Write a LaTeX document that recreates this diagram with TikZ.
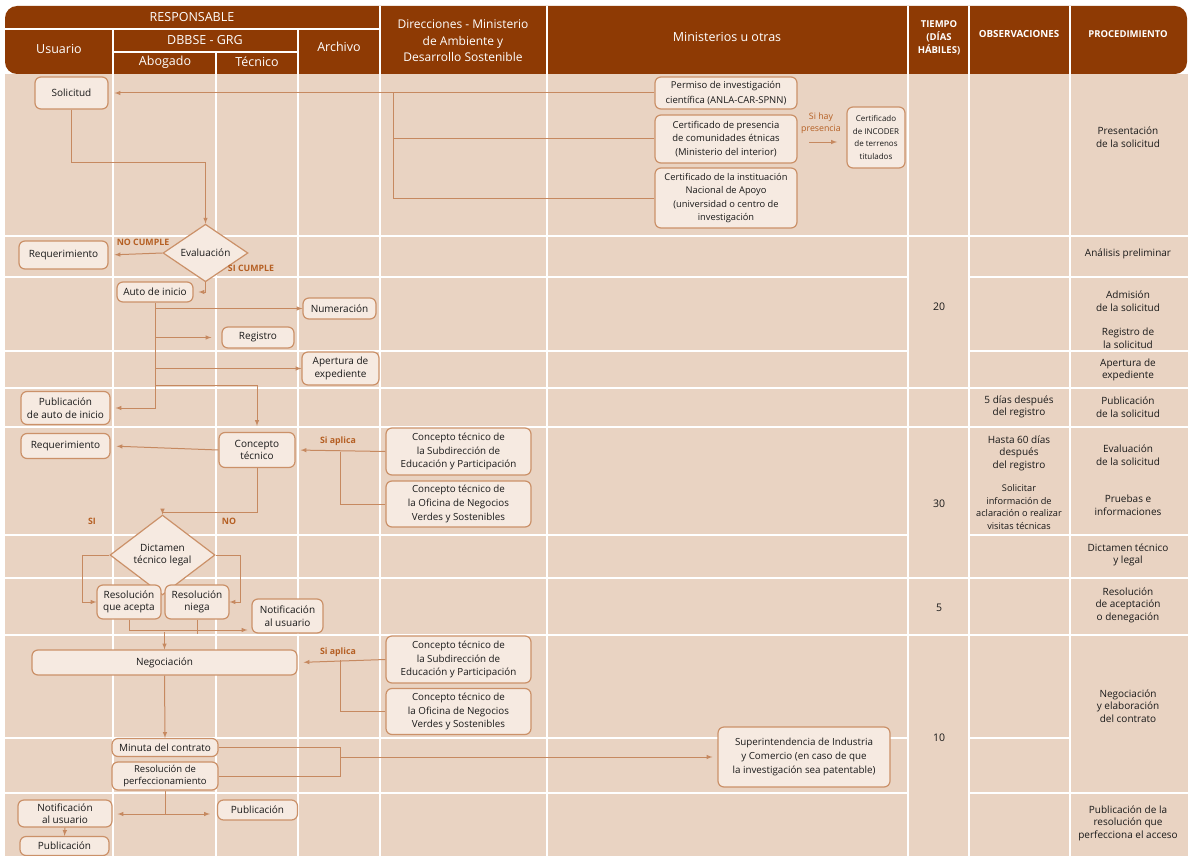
\documentclass[tikz,border=0pt]{standalone}
\usepackage{fontspec}
\setmainfont{Open Sans}
\usetikzlibrary{shapes.geometric}
\definecolor{cafe}{RGB}{142,58,4}
\definecolor{fondo}{RGB}{233,211,194}
\definecolor{caja}{RGB}{246,234,225}
\definecolor{borde}{RGB}{203,145,105}
\definecolor{linea}{RGB}{198,137,96}
\definecolor{etiqueta}{RGB}{181,95,35}
\tikzset{
  >=latex,
  paso/.style={draw=borde, fill=caja, line width=1.2pt, rounded corners=6pt, align=center,
    inner sep=1pt, text=black!90, font=\fontsize{10}{12.5}\selectfont},
  pasochico/.style={paso, font=\fontsize{9.8}{13.8}\selectfont},
  decision/.style={diamond, draw=borde, fill=caja, line width=1.2pt, align=center,
    inner sep=0pt, text=black!90, font=\fontsize{10}{12.5}\selectfont},
  flujo/.style={draw=linea, line width=1pt},
  rotulo/.style={text=etiqueta, align=center, font=\fontsize{8.8}{11.5}\selectfont\bfseries},
  encabezado/.style={text=white, align=center, font=\fontsize{12.5}{15}\selectfont},
  nota/.style={align=center, text=black!90, font=\fontsize{10}{12.5}\selectfont},
  rejilla/.style={white, line width=1.8pt}
}

\begin{document}
\begin{tikzpicture}[x=1pt,y=-1pt]
\useasboundingbox (0,0) rectangle (1188,856);
\fill[white] (0,0) rectangle (1188,856);
\fill[fondo] (5,74) rectangle (1188,856);
\fill[cafe,rounded corners=12pt] (5,6) rectangle (1187,74);

\draw[rejilla] (5,29)--(380,29);
\draw[rejilla] (113,52)--(298,52);
\foreach \x in {113,298} \draw[rejilla] (\x,29)--(\x,74);
\draw[rejilla] (216,52)--(216,74);
\foreach \x in {380,547,908,969,1070} \draw[rejilla] (\x,6)--(\x,74);
\foreach \x in {113,216,298,380,547,908,969,1070} \draw[rejilla] (\x,74)--(\x,856);
\foreach \y in {236,388,427,578,635} \draw[rejilla] (5,\y)--(1188,\y);
\foreach \y in {277,351,535,793} {
  \draw[rejilla] (5,\y)--(908,\y);
  \draw[rejilla] (969,\y)--(1188,\y);
}
\draw[rejilla] (5,738)--(908,738);
\draw[rejilla] (969,738)--(1070,738);

\node[encabezado] (hresp) at (192,17) {RESPONSABLE};
\node[encabezado] (husuario) at (59,49) {Usuario};
\node[encabezado] (hdbbse) at (205,40) {DBBSE - GRG};
\node[encabezado] (habogado) at (165,62) {Abogado};
\node[encabezado] (htecnico) at (257,62) {Técnico};
\node[encabezado] (harchivo) at (339,47) {Archivo};
\node[encabezado, font=\fontsize{12}{16.5}\selectfont] (hdirecc) at (463,41) {Direcciones - Ministerio\\de Ambiente y\\Desarrollo Sostenible};
\node[encabezado] (hminist) at (727,37) {Ministerios u otras};
\node[encabezado, font=\fontsize{9.5}{13}\selectfont\bfseries] (htiempo) at (939,38) {TIEMPO\\(DÍAS\\HÁBILES)};
\node[encabezado, font=\fontsize{9.8}{13}\selectfont\bfseries] (hobserv) at (1019,34) {OBSERVACIONES};
\node[encabezado, font=\fontsize{9.5}{13}\selectfont\bfseries] (hproced) at (1128,34) {PROCEDIMIENTO};

\node[nota, font=\fontsize{10.5}{12.5}\selectfont] (t20) at (939,307) {20};
\node[nota, font=\fontsize{10.5}{12.5}\selectfont] (t30) at (939,504) {30};
\node[nota, font=\fontsize{10.5}{12.5}\selectfont] (t5) at (939,608) {5};
\node[nota, font=\fontsize{10.5}{12.5}\selectfont] (t10) at (939,738) {10};

\node[nota] (o1) at (1019,407) {5 días después\\del registro};
\node[nota] (o2) at (1019,453) {Hasta 60 días\\después\\del registro};
\node[nota, font=\fontsize{9.2}{12.8}\selectfont] (o3) at (1019,507) {Solicitar\\información de\\aclaración o realizar\\visitas técnicas};

\node[nota] (p1) at (1128,137) {Presentación\\de la solicitud};
\node[nota] (p2) at (1128,254) {Análisis preliminar};
\node[nota] (p3) at (1128,301) {Admisión\\de la solicitud};
\node[nota] (p4) at (1128,338) {Registro de\\la solicitud};
\node[nota] (p5) at (1128,370) {Apertura de\\expediente};
\node[nota] (p6) at (1128,407) {Publicación\\de la solicitud};
\node[nota] (p7) at (1128,455) {Evaluación\\de la solicitud};
\node[nota] (p8) at (1128,505) {Pruebas e\\informaciones};
\node[nota] (p9) at (1128,555) {Dictamen técnico\\y legal};
\node[nota] (p10) at (1128,605) {Resolución\\de aceptación\\o denegación};
\node[nota] (p11) at (1128,706) {Negociación\\y elaboración\\del contrato};
\node[nota] (p12) at (1128,823) {Publicación de la\\resolución que\\perfecciona el acceso};

\node[paso, minimum width=73pt, minimum height=32pt] (solicitud) at (71.5,93) {Solicitud};
\node[pasochico, font=\fontsize{9.5}{15}\selectfont, minimum width=142pt, minimum height=32pt] (permiso) at (726,93) {Permiso de investigación\\científica (ANLA-CAR-SPNN)};
\node[pasochico, font=\fontsize{9.5}{13.5}\selectfont, minimum width=142pt, minimum height=48pt] (presencia) at (726,139) {Certificado de presencia\\de comunidades étnicas\\(Ministerio del interior)};
\node[pasochico, font=\fontsize{9.3}{13.5}\selectfont, minimum width=142pt, minimum height=60pt] (institucion) at (726,198) {Certificado de la instituación\\Nacional de Apoyo\\(universidad o centro de\\investigación};
\node[paso, font=\fontsize{8}{12.5}\selectfont, minimum width=58pt, minimum height=61pt] (incoder) at (876,137.5) {Certificado\\de INCODER\\de terrenos\\titulados};
\node[rotulo, font=\fontsize{8.8}{12.5}\selectfont] (hay) at (821,123) {Si hay\\presencia};
\coordinate (hayini) at (809,142);
\coordinate (hayfin) at (837,142);
\coordinate (union) at (393,93);

\node[decision, minimum width=85pt, minimum height=39pt] (evaluacion) at (205.5,253) {Evaluación};
\node[paso, minimum width=89pt, minimum height=28pt] (req1) at (63.5,255) {Requerimiento};
\node[rotulo] (nocumple) at (143,242) {NO CUMPLE};
\node[rotulo] (sicumple) at (251,268) {SI CUMPLE};

\node[paso, minimum width=76pt, minimum height=20pt] (auto) at (155,292) {Auto de inicio};
\node[paso, minimum width=73pt, minimum height=21pt] (numeracion) at (339.5,308.5) {Numeración};
\node[paso, minimum width=72pt, minimum height=21pt] (registro) at (258,337.5) {Registro};
\node[paso, minimum width=77pt, minimum height=33pt] (apertura) at (340.5,368.5) {Apertura de\\expediente};
\node[paso, minimum width=89pt, minimum height=33pt] (publicauto) at (65.5,408) {Publicación\\de auto de inicio};

\node[paso, minimum width=76pt, minimum height=35pt] (concepto) at (257,450) {Concepto\\técnico};
\node[paso, minimum width=89pt, minimum height=25pt] (req2) at (65.5,446) {Requerimiento};
\node[pasochico, minimum width=145pt, minimum height=47pt] (subdir) at (458.5,451.5) {Concepto técnico de\\la Subdirección de\\Educación y Participación};
\node[pasochico, minimum width=145pt, minimum height=46pt] (oficina) at (458.5,504) {Concepto técnico de\\la Oficina de Negocios\\Verdes y Sostenibles};
\node[rotulo] (aplica) at (338,441) {Si aplica};
\coordinate (union2) at (340,451.5);
\node[rotulo] (si) at (92,521) {SI};
\node[rotulo] (no) at (229,521) {NO};

\node[decision, minimum width=105pt, minimum height=50pt] (dictamen) at (162.5,555) {Dictamen\\técnico legal};
\node[paso, minimum width=64pt, minimum height=34pt] (acepta) at (129,602) {Resolución\\que acepta};
\node[paso, minimum width=64pt, minimum height=34pt] (niega) at (197,602) {Resolución\\niega};
\node[paso, minimum width=71pt, minimum height=34pt] (notif) at (287.5,616) {Notificación\\al usuario};

\node[paso, minimum width=265pt, minimum height=25pt] (negociacion) at (164.5,662.5) {Negociación};
\node[pasochico, minimum width=145pt, minimum height=47pt] (subdirb) at (458.5,659.5) {Concepto técnico de\\la Subdirección de\\Educación y Participación};
\node[pasochico, minimum width=145pt, minimum height=46pt] (oficinab) at (458.5,711.5) {Concepto técnico de\\la Oficina de Negocios\\Verdes y Sostenibles};
\node[rotulo] (aplicab) at (338,652) {Si aplica};
\coordinate (union3) at (340,659.5);

\node[paso, minimum width=106pt, minimum height=18pt] (minuta) at (165,747.5) {Minuta del contrato};
\node[paso, font=\fontsize{9.5}{12.5}\selectfont, minimum width=106pt, minimum height=28pt] (perfecc) at (165,776) {Resolución de\\perfeccionamiento};
\node[pasochico, minimum width=172pt, minimum height=60pt] (superint) at (804,757) {Superintendencia de Industria\\y Comercio (en caso de que\\la investigación sea patentable)};
\coordinate (union4) at (340,757);
\coordinate (reparto) at (165,814);

\node[paso, minimum width=80pt, minimum height=20pt] (publicb) at (257.5,810) {Publicación};
\node[paso, minimum width=94pt, minimum height=27pt] (notifb) at (65,813.5) {Notificación\\al usuario};
\node[paso, minimum width=89pt, minimum height=19pt] (publicc) at (64.5,846) {Publicación};

\draw[flujo,->,shorten >=6pt] (permiso.west) -- (solicitud.east);
\draw[flujo] (presencia.west) -| (union);
\draw[flujo] (institucion.west) -| (union);
\draw[flujo,->] (hayini) -- (hayfin);
\draw[flujo,->] (solicitud.south) -- ++(0,53) -| (evaluacion.north);
\draw[flujo,->,shorten >=6pt] (evaluacion.west) -- (req1.east);
\draw[flujo,->,shorten >=5pt] (evaluacion.south) |- (auto.east);

\draw[flujo,->,shorten >=5pt] (auto.south) |- (publicauto.east);
\draw[flujo,->] (auto.south |- numeracion.west) -- (numeracion.west);
\draw[flujo,->,shorten >=10pt] (auto.south |- registro.west) -- (registro.west);
\draw[flujo,->] (auto.south |- apertura.west) -- (apertura.west);
\draw[flujo,->,shorten >=6pt] (auto.south) ++(0,83) -| (concepto.north);

\draw[flujo,->,shorten >=6pt] (concepto.west) -- (req2.east);
\draw[flujo,->,shorten >=5pt] (subdir.west) -- (concepto.east);
\draw[flujo] (oficina.west) -| (union2);
\draw[flujo,->] (concepto.south) -- ++(0,44) -| (dictamen.north);

\draw[flujo,->] (dictamen.west) -- ++(-27,0) |- (acepta.west);
\draw[flujo,->] (dictamen.east) -- ++(25,0) |- (niega.east);
\draw[flujo,->,shorten >=4pt] (acepta.south) |- ([yshift=-14pt]notif.west);
\draw[flujo] (niega.south) -- ++(0,14);
\draw[flujo,->] (negociacion.north) ++(0,-17) -- (negociacion.north);

\draw[flujo,->,shorten >=6pt] (subdirb.west) -- (negociacion.east);
\draw[flujo] (oficinab.west) -| (union3);
\draw[flujo,->] (negociacion.south) -- (minuta.north);

\draw[flujo] (minuta.east) -| (union4);
\draw[flujo] (perfecc.east) -| (union4);
\draw[flujo,->,shorten >=5pt] (union4) -- (superint.west);

\draw[flujo] (perfecc.south) -- (reparto);
\draw[flujo,<->,shorten <=5pt,shorten >=7pt] (notifb.east |- reparto) -- (publicb.west |- reparto);
\draw[flujo,->] (notifb.south) -- (publicc.north);
\end{tikzpicture}
\end{document}
